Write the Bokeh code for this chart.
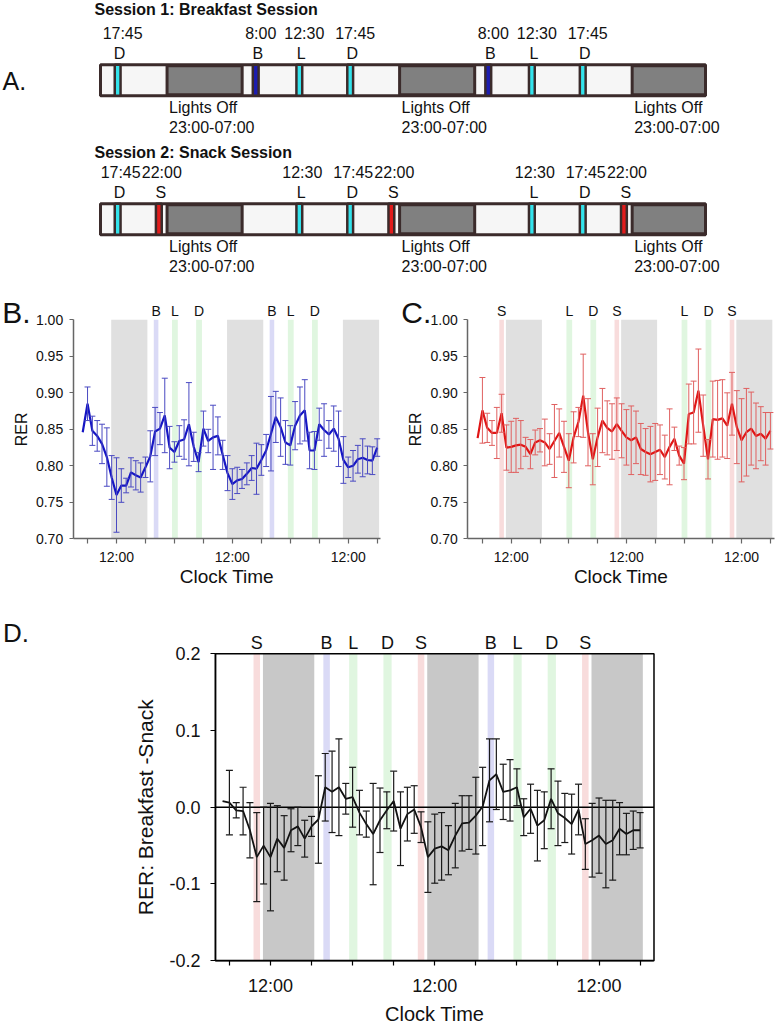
import math
from bokeh.plotting import figure
from bokeh.models import (Range1d, FixedTicker, NumeralTickFormatter, Whisker, TeeHead,
                          ColumnDataSource)
from bokeh.layouts import column, row
from bokeh.embed import file_html
from bokeh.resources import INLINE
from bokeh.core.properties import value

FONT = "Liberation Sans"

# ---------------- data ----------------
hours = list(range(-7, 55))

rer_breakfast = [0.846, 0.885, 0.848, 0.841, 0.830, 0.812, 0.784,
                 0.760, 0.773, 0.773, 0.791, 0.787, 0.784, 0.798, 0.813, 0.847, 0.851,
                 0.869, 0.825, 0.819, 0.834, 0.836, 0.857, 0.826, 0.805, 0.851, 0.834,
                 0.839, 0.841, 0.815, 0.790, 0.775, 0.780, 0.782, 0.789, 0.797, 0.796,
                 0.808, 0.821, 0.844, 0.867, 0.853, 0.832, 0.828, 0.855, 0.869, 0.876,
                 0.821, 0.821, 0.857, 0.849, 0.843, 0.851, 0.837, 0.808, 0.798, 0.800,
                 0.809, 0.811, 0.808, 0.807, 0.825]
rer_breakfast_err = [0.0, 0.023, 0.020, 0.021, 0.027, 0.040, 0.030,
                     0.051, 0.023, 0.010, 0.020, 0.020, 0.020, 0.014, 0.035, 0.033, 0.022,
                     0.051, 0.029, 0.014, 0.021, 0.027, 0.057, 0.020, 0.013, 0.024, 0.016,
                     0.044, 0.026, 0.020, 0.024, 0.021, 0.018, 0.013, 0.015, 0.017, 0.035,
                     0.021, 0.022, 0.051, 0.035, 0.040, 0.030, 0.027, 0.033, 0.039, 0.042,
                     0.025, 0.026, 0.022, 0.036, 0.019, 0.031, 0.038, 0.032, 0.014, 0.021,
                     0.019, 0.026, 0.019, 0.019, 0.012]

rer_snack = [0.838, 0.876, 0.852, 0.845, 0.845, 0.872, 0.825,
             0.826, 0.828, 0.829, 0.826, 0.816, 0.832, 0.835, 0.832, 0.823, 0.834,
             0.845, 0.826, 0.807, 0.839, 0.860, 0.896, 0.846, 0.809, 0.839, 0.862,
             0.852, 0.847, 0.857, 0.848, 0.839, 0.835, 0.839, 0.823, 0.819, 0.816,
             0.819, 0.822, 0.812, 0.826, 0.837, 0.814, 0.803, 0.871, 0.873, 0.903,
             0.855, 0.809, 0.864, 0.863, 0.865, 0.855, 0.885, 0.853, 0.835, 0.846,
             0.851, 0.841, 0.844, 0.837, 0.848]
rer_snack_err = [0.0, 0.045, 0.020, 0.017, 0.035, 0.026, 0.031,
                 0.035, 0.037, 0.033, 0.013, 0.020, 0.017, 0.016, 0.032, 0.021, 0.050,
                 0.033, 0.035, 0.037, 0.035, 0.020, 0.057, 0.046, 0.035, 0.040, 0.044,
                 0.037, 0.038, 0.036, 0.037, 0.038, 0.047, 0.036, 0.035, 0.032, 0.038,
                 0.039, 0.034, 0.030, 0.052, 0.016, 0.013, 0.022, 0.041, 0.043, 0.057,
                 0.042, 0.027, 0.052, 0.054, 0.053, 0.045, 0.043, 0.050, 0.057, 0.060,
                 0.050, 0.045, 0.037, 0.036, 0.025]

rer_diff = [0.008, 0.006, -0.004, -0.005, -0.030, -0.065, -0.050,
            -0.065, -0.041, -0.053, -0.030, -0.025, -0.041, -0.025, -0.016, 0.026, 0.020,
            0.026, 0.011, 0.013, -0.007, -0.022, -0.035, -0.017, -0.004, 0.008, -0.028,
            -0.009, -0.003, -0.026, -0.065, -0.054, -0.051, -0.056, -0.037, -0.021, -0.020,
            -0.011, 0.001, 0.035, 0.043, 0.020, 0.022, 0.026, -0.013, -0.002, -0.024,
            -0.017, 0.011, -0.008, -0.014, -0.022, -0.003, -0.048, -0.043, -0.037, -0.048,
            -0.043, -0.028, -0.035, -0.030, -0.030]
rer_diff_err = [0.0, 0.042, 0.010, 0.031, 0.036, 0.058, 0.050,
                0.070, 0.043, 0.042, 0.028, 0.025, 0.024, 0.013, 0.057, 0.044, 0.053,
                0.063, 0.020, 0.039, 0.029, 0.017, 0.066, 0.042, 0.024, 0.039, 0.048,
                0.035, 0.031, 0.020, 0.046, 0.045, 0.044, 0.032, 0.042, 0.036, 0.035,
                0.050, 0.051, 0.054, 0.046, 0.036, 0.040, 0.024, 0.024, 0.032, 0.046,
                0.037, 0.039, 0.042, 0.032, 0.039, 0.033, 0.033, 0.048, 0.049, 0.057,
                0.052, 0.034, 0.027, 0.025, 0.023]

lights_off_start = [-1, 23, 47]
lights_off_end = [7, 31, 55]

breakfast_meal_letters = ["D", "B", "L", "D", "B", "L", "D"]
breakfast_meal_hours = [-6.25, 8, 12.5, 17.75, 32, 36.5, 41.75]
breakfast_meal_times = ["17:45", "8:00", "12:30", "17:45", "8:00", "12:30", "17:45"]
snack_meal_letters = ["D", "S", "L", "D", "S", "L", "D", "S"]
snack_meal_hours = [-6.25, -2, 12.5, 17.75, 22, 36.5, 41.75, 46]
snack_meal_times = ["17:45", "22:00", "12:30", "17:45", "22:00", "12:30", "17:45", "22:00"]

bins_b_letters = ["B", "L", "D", "B", "L", "D"]
bins_b_hours = [8.2, 12.1, 17.1, 32.2, 36.1, 41.1]
bins_c_letters = ["S", "L", "D", "S", "L", "D", "S"]
bins_c_hours = [-2, 12.1, 17.1, 22, 36.1, 41.1, 46]
bins_d_letters = ["S", "B", "L", "D", "S", "B", "L", "D", "S"]
bins_d_hours = [-2, 8.2, 12.1, 17.1, 22, 32.2, 36.1, 41.1, 46]

x_ticks = [-6, 0, 6, 12, 18, 24, 30, 36, 42, 48, 54]
x_tick_labels = {t: ("12:00" if t % 24 == 0 else "") for t in x_ticks}
rer_ticks = [0.70, 0.75, 0.80, 0.85, 0.90, 0.95, 1.00]
diff_ticks = [-0.2, -0.1, 0.0, 0.1, 0.2]

# ---------------- styles ----------------
band_colors = {"B": "#dadaf6", "L": "#e0f6e0", "D": "#e0f6e0", "S": "#f8dcdc"}
band_widths = {"B": 0.95, "L": 1.2, "D": 1.2, "S": 0.95}
marker_colors = {"B": "#1c1cb0", "L": "#33e3ec", "D": "#33e3ec", "S": "#e21c1c"}
DARK = "#3b2b2b"
INK = "#111111"


def base_fig(width, height, xr, yr):
    p = figure(width=width, height=height, x_range=Range1d(*xr), y_range=Range1d(*yr),
               output_backend="svg", toolbar_location=None, min_border=0)
    p.xgrid.visible = False
    p.ygrid.visible = False
    p.outline_line_color = None
    p.background_fill_color = "white"
    p.border_fill_color = "white"
    return p


def txt(p, x, y, s, size, xo=0, yo=0, align="center", angle=0.0, bold=False):
    p.text(x=[x], y=[y], text=[s], x_offset=xo, y_offset=yo, angle=angle,
           text_align=align, text_baseline="middle", text_font=value(FONT),
           text_font_size=size, text_font_style="bold" if bold else "normal",
           text_color=INK)


# ---------------- panel A ----------------
pA = base_fig(783, 278, (-18.34, 62.47), (278, 0))
pA.axis.visible = False

bar_start, bar_end = -8.02, 54.42


def schedule(p, dy, title, title_y, letters, mhours, mtimes, time_off):
    top, bot = 64.2 + dy, 95.2 + dy
    p.quad(left=[bar_start], right=[bar_end], top=[top], bottom=[bot],
           fill_color="#f6f6f6", line_color=DARK, line_width=3)
    gl = [s - 0.15 for s in lights_off_start]
    gr = [min(e - 0.4, bar_end) for e in lights_off_end]
    p.quad(left=gl, right=gr, top=[top + 1] * 3, bottom=[bot - 1] * 3,
           fill_color="#808080", line_color=DARK, line_width=3)
    p.quad(left=[h - 0.3 for h in mhours], right=[h + 0.3 for h in mhours],
           top=[top] * len(mhours), bottom=[bot] * len(mhours),
           fill_color=[marker_colors[m] for m in letters], line_color=DARK, line_width=2.5)
    kw = dict(text_baseline="middle", text_font=value(FONT), text_font_size="16px",
              text_color=INK)
    p.text(x=[bar_start], y=[title_y], text=[title], x_offset=-6, text_align="left",
           text_font_style="bold", **kw)
    p.text(x=mhours, y=[33.3 + dy] * len(mhours), text=mtimes, x_offset=time_off,
           text_align="center", **kw)
    p.text(x=mhours, y=[53.3 + dy] * len(mhours), text=letters, x_offset=2,
           text_align="center", **kw)
    p.text(x=gl, y=[106.7 + dy] * 3, text=["Lights Off"] * 3, x_offset=2,
           text_align="left", **kw)
    p.text(x=gl, y=[126.7 + dy] * 3, text=["23:00-07:00"] * 3, x_offset=2,
           text_align="left", **kw)


schedule(pA, 0, "Session 1: Breakfast Session", 9, breakfast_meal_letters,
         breakfast_meal_hours, breakfast_meal_times, 5)
schedule(pA, 139, "Session 2: Snack Session", 152, snack_meal_letters,
         snack_meal_hours, snack_meal_times, 3)
txt(pA, pA.x_range.start, 80, "A.", "25px", xo=2, align="left")


# ---------------- helpers for B, C, D ----------------
def add_bands(p, ylo, yhi, letters, bh, gray):
    p.quad(left=[s - 0.1 for s in lights_off_start], right=[e - 0.6 for e in lights_off_end],
           bottom=[ylo] * 3, top=[yhi] * 3, fill_color=gray, line_color=None)
    p.quad(left=[h - band_widths[m] / 2 for m, h in zip(letters, bh)],
           right=[h + band_widths[m] / 2 for m, h in zip(letters, bh)],
           bottom=[ylo] * len(bh), top=[yhi] * len(bh),
           fill_color=[band_colors[m] for m in letters], line_color=None)


def add_series(p, mean, err, line_color, bar_color, lw, head, bar_w):
    idx = [i for i, e in enumerate(err) if e > 0]
    src = ColumnDataSource(dict(h=[hours[i] for i in idx],
                                lo=[mean[i] - err[i] for i in idx],
                                hi=[mean[i] + err[i] for i in idx]))
    w = Whisker(base="h", lower="lo", upper="hi", source=src, line_color=bar_color,
                line_width=bar_w, level="annotation",
                upper_head=TeeHead(size=head, line_color=bar_color, line_width=bar_w),
                lower_head=TeeHead(size=head, line_color=bar_color, line_width=bar_w))
    p.add_layout(w)
    p.line(hours, mean, line_color=line_color, line_width=lw)


def style_axes(p, xb, yb, yticks, yfmt, color, lw, font_size):
    p.xaxis.fixed_location = yb[0]
    p.yaxis.fixed_location = xb[0]
    p.xaxis.bounds = xb
    p.yaxis.bounds = yb
    p.xaxis.ticker = FixedTicker(ticks=x_ticks)
    p.xaxis.major_label_overrides = x_tick_labels
    p.yaxis.ticker = FixedTicker(ticks=yticks)
    p.yaxis.formatter = NumeralTickFormatter(format=yfmt)
    for ax in (p.xaxis, p.yaxis):
        ax.axis_line_color = color
        ax.axis_line_width = lw
        ax.major_tick_line_color = color
        ax.major_tick_line_width = 1.2
        ax.minor_tick_line_color = None
        ax.major_tick_in = 0
        ax.major_label_text_font = FONT
        ax.major_label_text_font_size = font_size
        ax.major_label_text_color = INK


def rer_panel(width, xr, frame_x, letters, bh, mean, err, lc, bc, panel_label, lab_off):
    p = base_fig(width, 332, xr, (0.6018, 1.0566))
    add_bands(p, 0.70, 1.00, letters, bh, "#e0e0e0")
    add_series(p, mean, err, lc, bc, 2.2, 6, 1)
    style_axes(p, frame_x, (0.70, 1.00), rer_ticks, "0.00", "#666666", 1.5, "14px")
    p.xaxis.major_tick_out = 5
    p.yaxis.major_tick_out = 4
    p.xaxis.major_label_standoff = 5
    p.yaxis.major_label_standoff = 6
    mid_x = (frame_x[0] + frame_x[1]) / 2
    txt(p, mid_x, 0.70, "Clock Time", "19px", yo=38)
    txt(p, frame_x[0], 0.85, "RER", "16px", xo=-52, angle=math.pi / 2)
    p.text(x=bh, y=[1.00] * len(bh), text=letters, y_offset=-8.6, text_align="center",
           text_baseline="middle", text_font=value(FONT), text_font_size="14px",
           text_color=INK)
    txt(p, frame_x[0], 1.00, panel_label, "30px", xo=lab_off, yo=-7.3, align="left")
    return p


pB = rer_panel(390, (-24.03, 56.76), (-8.97, 54.7), bins_b_letters, bins_b_hours,
               rer_breakfast, rer_breakfast_err, "#1515c4", "#4a4ac2", "B.", -71)
pC = rer_panel(393, (-25.15, 56.73), (-9.04, 54.8), bins_c_letters, bins_c_hours,
               rer_snack, rer_snack_err, "#e01515", "#e06060", "C.", -66.5)

# ---------------- panel D ----------------
d_frame_x = (-8.04, 56.03)
pD = base_fig(783, 414, (-39.44, 74.95), (-0.2831, 0.2563))
add_bands(pD, -0.2, 0.2, bins_d_letters, bins_d_hours, "#c8c8c8")
pD.quad(left=[d_frame_x[0]], right=[d_frame_x[1]], bottom=[-0.2], top=[0.2],
        fill_color=None, line_color="black", line_width=1.5)
pD.segment(x0=[d_frame_x[0]], x1=[d_frame_x[1]], y0=[0.0], y1=[0.0],
           line_color="black", line_width=1.5)
add_series(pD, rer_diff, rer_diff_err, INK, "#1a1a1a", 1.8, 7, 1.2)
style_axes(pD, d_frame_x, (-0.2, 0.2), diff_ticks, "0.0", "black", 1.5, "18px")
pD.xaxis.major_tick_out = 5
pD.yaxis.major_tick_out = 5
pD.xaxis.major_label_standoff = 10
pD.yaxis.major_label_standoff = 10
txt(pD, (d_frame_x[0] + d_frame_x[1]) / 2, -0.2, "Clock Time", "20px", yo=53)
txt(pD, d_frame_x[0], 0.0, "RER: Breakfast -Snack", "21px", xo=-70, angle=math.pi / 2)
pD.text(x=bins_d_hours, y=[0.2] * len(bins_d_hours), text=bins_d_letters, y_offset=-11,
        text_align="center", text_baseline="middle", text_font=value(FONT),
        text_font_size="18px", text_color=INK)
txt(pD, d_frame_x[0], 0.2, "D.", "26px", xo=-212.5, yo=-21, align="left")

layout = column(row(pA), row(pB, pC), row(pD))
open("out.html", "w").write(file_html(layout, INLINE))
